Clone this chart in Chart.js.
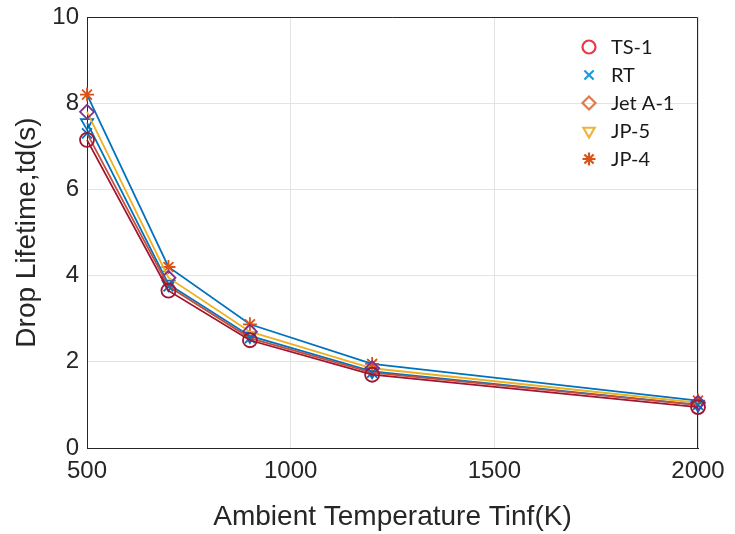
<!DOCTYPE html>
<html>
<head>
<meta charset="utf-8">
<script src="https://cdn.jsdelivr.net/npm/chart.js@4/dist/chart.umd.min.js"></script>
<style>
  html, body { margin: 0; padding: 0; background: #fff; }
  #wrap { width: 735px; height: 534px; }
</style>
</head>
<body>
<div id="wrap"><canvas id="chart" width="735" height="534"></canvas></div>
<script>
// temperatures (K)
const temps = [500, 700, 900, 1200, 2000];
// drop lifetime (s) per fuel
const ts1 = [7.15, 3.65, 2.50, 1.70, 0.95];
const rt = [7.30, 3.75, 2.55, 1.75, 1.00];
const jetA1 = [7.80, 3.95, 2.70, 1.85, 1.05];
const jp5 = [7.55, 3.80, 2.60, 1.78, 1.00];
const jp4 = [8.20, 4.20, 2.87, 1.95, 1.10];
const xTicks = [500, 1000, 1500, 2000];
const yTicks = [0, 2, 4, 6, 8, 10];

function pts(vals) {
  return temps.map((t, i) => ({ x: t, y: vals[i] }));
}

const series = [
  { label: 'TS-1', data: ts1, line: '#A2142F', mark: '#A2142F', style: 'circle', rot: 0, legend: '#E8394A' },
  { label: 'RT', data: rt, line: '#C0503A', mark: '#0072BD', style: 'crossRot', rot: 0, legend: '#1A9BE0' },
  { label: 'Jet A-1', data: jetA1, line: '#EDB120', mark: '#7E2F8E', style: 'rectRot', rot: 0, legend: '#E07A4A' },
  { label: 'JP-5', data: jp5, line: '#0072BD', mark: '#0072BD', style: 'triangle', rot: 180, legend: '#EDB53A' },
  { label: 'JP-4', data: jp4, line: '#0072BD', mark: '#D95319', style: 'star', rot: 0, legend: '#D95319' }
];

const FONT = 'Arial, "Liberation Sans", sans-serif';

// box on top/right of axes
const axesBox = {
  id: 'axesBox',
  beforeDatasetsDraw(chart) {
    const a = chart.chartArea;
    const ctx = chart.ctx;
    ctx.save();
    ctx.strokeStyle = '#262626';
    ctx.lineWidth = 1;
    ctx.beginPath();
    ctx.moveTo(a.left, a.top + 0.5);
    ctx.lineTo(a.right - 0.5, a.top + 0.5);
    ctx.lineTo(a.right - 0.5, a.bottom);
    ctx.stroke();
    ctx.restore();
  }
};

// legend drawn inside the axes, like the MATLAB one
const insideLegend = {
  id: 'insideLegend',
  afterDraw(chart) {
    const ctx = chart.ctx;
    ctx.save();
    ctx.font = '20px Lato, "Open Sans", sans-serif';
    ctx.textBaseline = 'middle';
    series.forEach((s, i) => {
      const y = 47 + i * 28;
      ctx.strokeStyle = s.legend;
      ctx.fillStyle = 'rgba(0,0,0,0)';
      ctx.lineWidth = 2.2;
      Chart.helpers.drawPoint(ctx, {
        pointStyle: s.style, radius: 6.5, rotation: s.rot, borderWidth: 2.2
      }, 589, y);
      ctx.fillStyle = '#1a1a1a';
      ctx.fillText(s.label, 611, y + 1);
    });
    ctx.restore();
  }
};

new Chart(document.getElementById('chart'), {
  type: 'line',
  data: {
    datasets: series.map(s => ({
      label: s.label,
      data: pts(s.data),
      borderColor: s.line,
      borderWidth: 1.8,
      pointStyle: s.style,
      pointRotation: s.rot,
      pointRadius: 7,
      pointBorderColor: s.mark,
      pointBackgroundColor: 'rgba(0,0,0,0)',
      pointBorderWidth: 1.8,
      tension: 0,
      fill: false,
      clip: false
    }))
  },
  options: {
    responsive: false,
    animation: false,
    layout: { padding: { left: 0, top: 17, right: 37, bottom: 0 } },
    plugins: {
      legend: { display: false },
      tooltip: { enabled: false }
    },
    scales: {
      x: {
        type: 'linear',
        min: 500,
        max: 2000,
        afterBuildTicks: ax => { ax.ticks = xTicks.map(v => ({ value: v })); },
        afterFit: ax => { ax.height = 86; ax.paddingRight = 0; ax.paddingLeft = 0; },
        grid: { color: '#e3e3e3', drawTicks: false },
        border: { color: '#262626', width: 1 },
        ticks: {
          padding: 9,
          color: '#262626',
          callback: v => String(v),
          font: { family: FONT, size: 24 }
        },
        title: {
          display: true,
          text: 'Ambient Temperature Tinf(K)',
          color: '#262626',
          padding: { top: 0, bottom: 0 },
          font: { family: FONT, size: 28 }
        }
      },
      y: {
        min: 0,
        max: 10,
        afterBuildTicks: ax => { ax.ticks = yTicks.map(v => ({ value: v })); },
        afterFit: ax => { ax.width = 87; ax.paddingTop = 0; ax.paddingBottom = 0; },
        grid: { color: '#e3e3e3', drawTicks: false },
        border: { color: '#262626', width: 1 },
        ticks: {
          padding: 8,
          color: '#262626',
          callback: v => String(v),
          font: { family: FONT, size: 24 }
        },
        title: {
          display: true,
          text: 'Drop Lifetime,td(s)',
          color: '#262626',
          padding: { top: 10 },
          font: { family: FONT, size: 28 }
        }
      }
    }
  },
  plugins: [axesBox, insideLegend]
});
</script>
</body>
</html>
